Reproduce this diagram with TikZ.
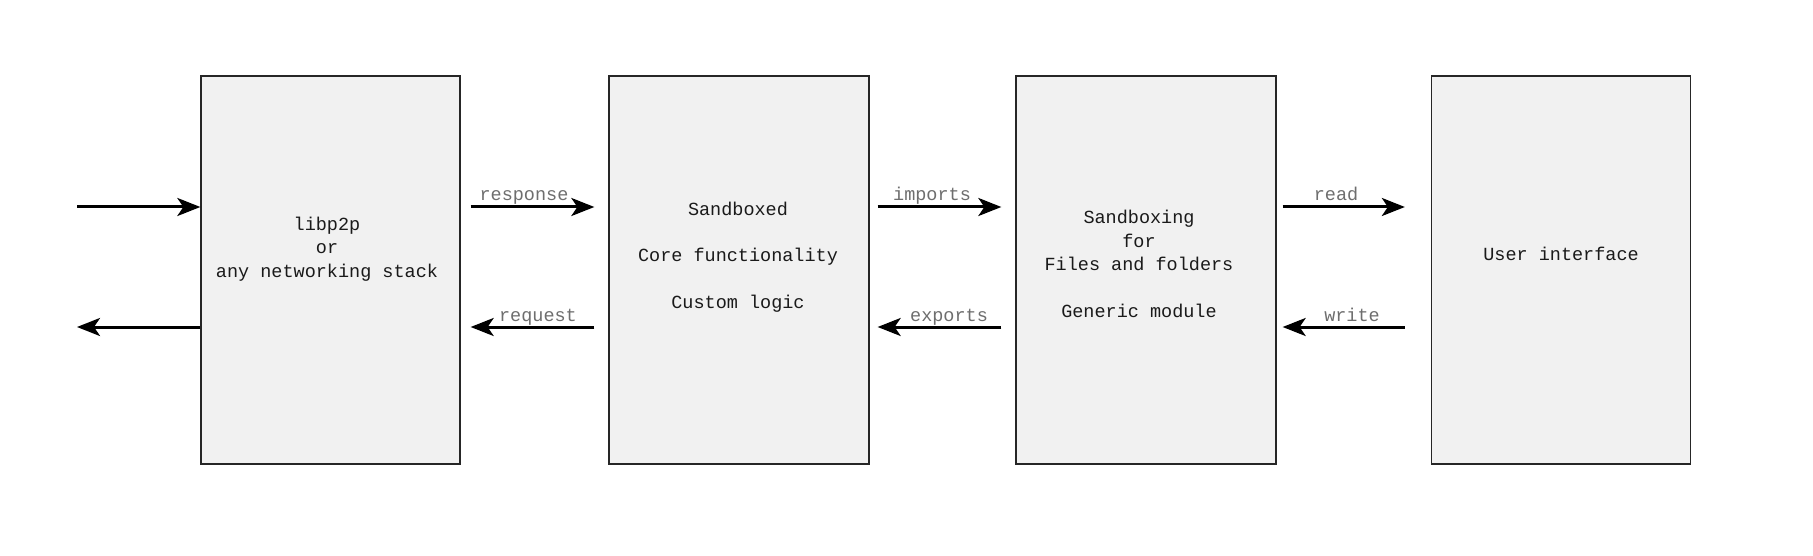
\documentclass[tikz,border=0pt]{standalone}
\usepackage{fontspec}
\setmonofont{Liberation Mono}
\usetikzlibrary{arrows.meta}
\definecolor{boxfill}{HTML}{F1F1F1}
\definecolor{lblgray}{HTML}{6E6E6E}
\definecolor{txt}{HTML}{1A1A1A}
\tikzset{
  blk/.style={draw=black!85, line width=1.3pt, fill=boxfill, minimum width=259pt, minimum height=388pt, inner sep=0pt},
  boxtext/.style={font=\ttfamily\fontsize{18.5}{23.3}\selectfont, align=center, text=txt, inner sep=0pt},
  arr/.style={line width=3pt, -{Stealth[length=23pt, width=18pt, inset=6pt]}},
  fwd/.style={arr, shorten <=10pt, shorten >=14pt},
  bwd/.style={arr, shorten <=14pt, shorten >=10pt},
  lbl/.style={font=\ttfamily\fontsize{18.5}{23.3}\selectfont, text=lblgray, anchor=base, inner sep=0pt}
}
\begin{document}
\begin{tikzpicture}[x=1pt, y=-1pt]
\useasboundingbox (0,0) rectangle (1813,556);
\fill[white] (0,0) rectangle (1813,556);

\node[blk] (b1) at (330.5,270) {};
\node[blk, minimum width=260pt] (b2) at (739,270) {};
\node[blk, minimum width=260pt] (b3) at (1146,270) {};
\node[blk] (b4) at (1561,270) {};

\node[boxtext] (t1) at (327,249) {libp2p\\or\\any networking stack};
\node[boxtext] (t2) at (738,257) {Sandboxed\\[23.3pt]Core functionality\\[23.3pt]Custom logic};
\node[boxtext] (t3) at (1139,264) {Sandboxing\\for\\Files and folders\\[23.3pt]Generic module};
\node[boxtext] (t4) at (1561,254) {User interface};

\coordinate (up) at (0,207);
\coordinate (dn) at (0,327);
\coordinate (in1) at (77,207);
\coordinate (out1) at (77,327);

\draw[arr] (in1) -- (b1.west |- up);
\draw[arr] (b1.west |- dn) -- (out1);

\draw[fwd] (b1.east |- up) -- (b2.west |- up);
\draw[bwd] (b2.west |- dn) -- (b1.east |- dn);
\draw[fwd, shorten <=8pt] (b2.east |- up) -- (b3.west |- up);
\draw[bwd, shorten >=8pt] (b3.west |- dn) -- (b2.east |- dn);
\draw[arr, shorten <=6pt, shorten >=26pt] (b3.east |- up) -- (b4.west |- up);
\draw[arr, shorten <=26pt, shorten >=6pt] (b4.west |- dn) -- (b3.east |- dn);

\node[lbl] (l1) at (524,201) {response};
\node[lbl] (l2) at (538,321) {request};
\node[lbl] (l3) at (932,201) {imports};
\node[lbl] (l4) at (949,321) {exports};
\node[lbl] (l5) at (1336,201) {read};
\node[lbl] (l6) at (1352,321) {write};
\end{tikzpicture}
\end{document}
